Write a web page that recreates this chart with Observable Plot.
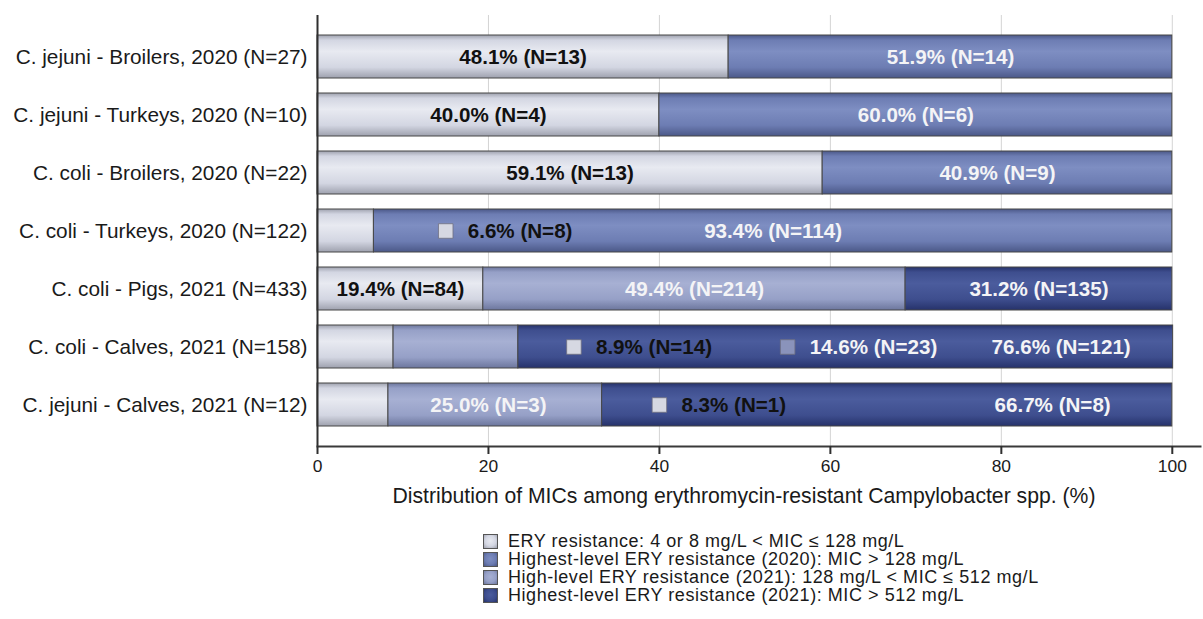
<!DOCTYPE html>
<html><head><meta charset="utf-8">
<script src="https://cdn.jsdelivr.net/npm/d3@7"></script>
<script src="https://cdn.jsdelivr.net/npm/@observablehq/plot@0.6"></script>
<style>
html,body{margin:0;padding:0;background:#fff;}
body{position:relative;width:1203px;height:619px;font-family:"Liberation Sans",Arial,sans-serif;color:#1a1a1a;overflow:hidden;}
#chart{position:absolute;left:0;top:0;}
#xtitle{position:absolute;top:483px;left:744px;transform:translateX(-50%);white-space:nowrap;font-size:21.2px;line-height:25px;}
#legend{position:absolute;top:532px;left:483px;}
.item{display:flex;align-items:center;height:18px;white-space:nowrap;}
.item span{display:inline-block;height:18px;line-height:18px;font-size:18px;letter-spacing:0.55px;overflow:visible;}
.sw{width:15px;height:15px;border:1px solid #555;box-sizing:border-box;margin-right:10px;flex:none;}
</style></head>
<body>
<div id="chart"></div>
<div id="xtitle"></div>
<div id="legend"></div>
<script>
// ---- data ----
const categories = [
  "C. jejuni - Broilers, 2020 (N=27)",
  "C. jejuni - Turkeys, 2020 (N=10)",
  "C. coli - Broilers, 2020 (N=22)",
  "C. coli - Turkeys, 2020 (N=122)",
  "C. coli - Pigs, 2021 (N=433)",
  "C. coli - Calves, 2021 (N=158)",
  "C. jejuni - Calves, 2021 (N=12)"
];
const seriesKeys = ["ery", "h2020", "hl2021", "h2021"];
const seriesNames = [
  "ERY resistance: 4 or 8 mg/L < MIC ≤ 128 mg/L",
  "Highest-level ERY resistance (2020): MIC > 128 mg/L",
  "High-level ERY resistance (2021): 128 mg/L < MIC ≤ 512 mg/L",
  "Highest-level ERY resistance (2021): MIC > 512 mg/L"
];
const segmentSeries = [
  ["ery", "h2020"], ["ery", "h2020"], ["ery", "h2020"], ["ery", "h2020"],
  ["ery", "hl2021", "h2021"], ["ery", "hl2021", "h2021"], ["ery", "hl2021", "h2021"]
];
const percentValues = [
  [48.1, 51.9], [40.0, 60.0], [59.1, 40.9], [6.6, 93.4],
  [19.4, 49.4, 31.2], [8.9, 14.6, 76.6], [8.3, 25.0, 66.7]
];
const countValues = [
  [13, 14], [4, 6], [13, 9], [8, 114],
  [84, 214, 135], [14, 23, 121], [1, 3, 8]
];
// where a label sits on the % axis when it is not at its segment's centre (null = centre)
const labelAtPct = [
  [null, null], [null, null], [null, null], [15, null],
  [null, null, null], [30, 55, 87], [40, 20, 86]
];
// labels drawn with a small key square in front of them
const labelWithKey = [
  [0, 0], [0, 0], [0, 0], [1, 0],
  [0, 0, 0], [1, 1, 0], [1, 0, 0]
];
const xTicks = [0, 20, 40, 60, 80, 100];
const xTitle = "Distribution of MICs among erythromycin-resistant Campylobacter spp. (%)";

// ---- styles ----
const grad = {
  ery:    {dark: "#9ea1ae", base: "#d3d6e2", light: "#e8eaf1"},
  h2020:  {dark: "#4b5888", base: "#6d7db3", light: "#7e8ec2"},
  hl2021: {dark: "#6c769d", base: "#96a0c7", light: "#a7b0d3"},
  h2021:  {dark: "#26326b", base: "#3e4e8e", light: "#4b5c9d"}
};

// ---- build table ----
const table = [];
const labels = [];
categories.forEach((cat, i) => {
  let acc = 0;
  segmentSeries[i].forEach((s, j) => {
    const pct = percentValues[i][j];
    table.push({cat, series: s, pct});
    const mid = acc + pct / 2;
    acc += pct;
    const at = labelAtPct[i][j];
    labels.push({
      cat, series: s,
      x: at == null ? mid : at,
      key: !!labelWithKey[i][j],
      text: `${pct.toFixed(1)}% (N=${countValues[i][j]})`
    });
  });
});

const fillOf = s => `url(#g-${s})`;
const keyFill = {ery: "#d6d8e2", h2020: "#6d7db3", hl2021: "#8a93bb", h2021: "#3e4e8e"};
const textFill = d => d.series === "ery" ? "#111" : "#f4f4f6";

const svg = Plot.plot({
  width: 1203,
  height: 483,
  marginLeft: 317,
  marginRight: 3,
  marginTop: 15,
  marginBottom: 37,
  style: {fontFamily: "'Liberation Sans', Arial, sans-serif", color: "#1a1a1a", background: "transparent"},
  x: {domain: [0, 103.3]},
  y: {domain: categories, paddingInner: 0.26, paddingOuter: 0.3},
  color: {type: "identity"},
  marks: [
    Plot.gridX(xTicks.filter(t => t > 0), {stroke: "#d4d4d4", strokeOpacity: 1, strokeWidth: 1}),
    Plot.barX(table, Plot.stackX({x: "pct", y: "cat", fill: d => fillOf(d.series), stroke: "#474747", strokeWidth: 1})),
    Plot.text(labels.filter(d => !d.key), {x: "x", y: "cat", text: "text", fill: textFill, fontWeight: "bold", fontSize: 20.6, textAnchor: "middle"}),
    Plot.dot(labels.filter(d => d.key), {x: "x", y: "cat", symbol: "square", r: 8.2, fill: d => keyFill[d.series], stroke: "#707080", strokeWidth: 0.8}),
    Plot.text(labels.filter(d => d.key), {x: "x", y: "cat", text: "text", fill: textFill, fontWeight: "bold", fontSize: 20.6, textAnchor: "start", dx: 22}),
    Plot.ruleX([0], {stroke: "#2f2f2f", strokeWidth: 2}),
    Plot.frame({anchor: "bottom", stroke: "#3a3a3a", strokeWidth: 2}),
    Plot.axisY({tickSize: 0, tickPadding: 10, fontSize: 20.8, label: null}),
    Plot.axisX({ticks: xTicks, tickSize: 8, tickPadding: 5, stroke: "#2f2f2f", strokeWidth: 2, fontSize: 17.4, label: null, tickFormat: d => String(d)})
  ]
});

// gradient definitions
const defs = d3.select(svg).insert("defs", ":first-child");
seriesKeys.forEach(k => {
  const g = grad[k];
  const lg = defs.append("linearGradient").attr("id", `g-${k}`)
    .attr("x1", 0).attr("y1", 0).attr("x2", 0).attr("y2", 1);
  [[0, g.dark], [0.12, g.base], [0.38, g.light], [0.75, g.base], [1, g.dark]]
    .forEach(([o, c]) => lg.append("stop").attr("offset", o).attr("stop-color", c));
});
document.getElementById("chart").appendChild(svg);

document.getElementById("xtitle").textContent = xTitle;
const legend = d3.select("#legend");
seriesKeys.forEach((k, i) => {
  const g = grad[k];
  const it = legend.append("div").attr("class", "item");
  it.append("div").attr("class", "sw")
    .style("background", `radial-gradient(circle at 50% 45%, ${g.light} 0%, ${g.base} 55%, ${g.dark} 100%)`);
  it.append("span").text(seriesNames[i]);
});
</script>
</body></html>
